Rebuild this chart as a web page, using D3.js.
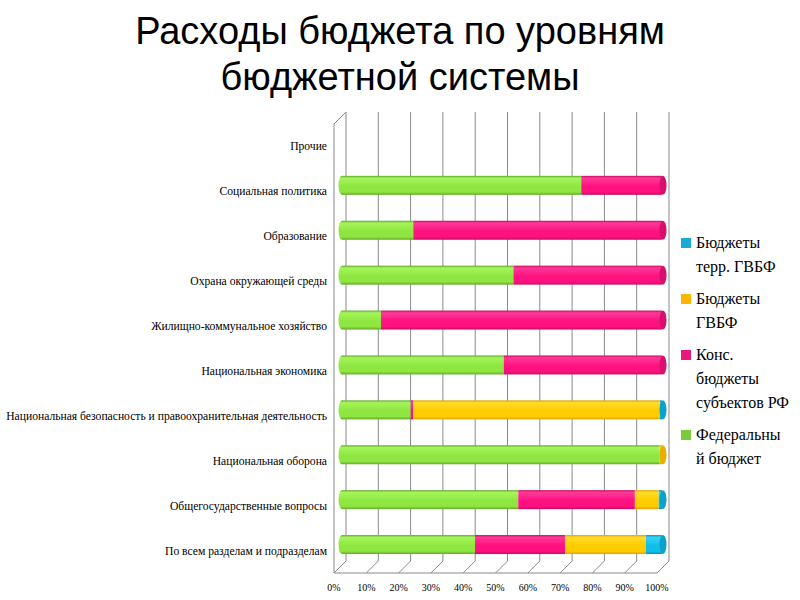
<!DOCTYPE html>
<html><head><meta charset="utf-8">
<script src="https://cdn.jsdelivr.net/npm/d3@7"></script>
<style>body{margin:0;background:#fff}svg{display:block}</style>
</head><body>
<svg id="c" width="800" height="600"></svg>
<script>
const titleLines = ["Расходы бюджета по уровням", "бюджетной системы"];
const categories = ["Прочие","Социальная политика","Образование","Охрана окружающей среды","Жилищно-коммунальное хозяйство","Национальная экономика","Национальная безопасность и правоохранительная деятельность","Национальная оборона","Общегосударственные вопросы","По всем разделам и подразделам"];
const seriesNames = ["Федеральный бюджет","Конс. бюджеты субъектов РФ","Бюджеты ГВБФ","Бюджеты терр. ГВБФ"];
const federal  = [0, 75, 23, 54, 13, 51, 22.2, 99.3, 55.5, 42.1];
const regional = [0, 25, 77, 46, 87, 49, 0.8, 0, 36.1, 27.9];
const gvbf     = [0, 0, 0, 0, 0, 0, 76.4, 0.7, 7.4, 25];
const tgvbf    = [0, 0, 0, 0, 0, 0, 0.6, 0, 1, 5];
const ticks = [0,10,20,30,40,50,60,70,80,90,100];
const legendItems = [["Бюджеты","терр. ГВБФ"],["Бюджеты","ГВБФ"],["Конс.","бюджеты","субъектов РФ"],["Федеральны","й бюджет"]];

const SERIF = "'Liberation Serif', 'Times New Roman', 'DejaVu Serif', serif";
const SANS = "'Liberation Sans', Arial, sans-serif";
const svg = d3.select("#c");
const colors = [
  {base:"#8fe640", light:"#a4f55a", dark:"#62a82a", cap:"#72c232", leg:"#7acc3c"},
  {base:"#ff1280", light:"#ff3a98", dark:"#c80c62", cap:"#d80f6c", leg:"#e8187c"},
  {base:"#ffcc00", light:"#ffdc2a", dark:"#e0a400", cap:"#e8b000", leg:"#ffb400"},
  {base:"#10bfe8", light:"#3ad0f5", dark:"#0890b8", cap:"#0aa2cc", leg:"#1aa8d8"}
];
const defs = svg.append("defs");
colors.forEach((c,i)=>{
  const g = defs.append("linearGradient").attr("id","g"+i).attr("x1",0).attr("y1",0).attr("x2",0).attr("y2",1);
  g.append("stop").attr("offset","0").attr("stop-color",c.dark);
  g.append("stop").attr("offset","0.12").attr("stop-color",c.light);
  g.append("stop").attr("offset","0.55").attr("stop-color",c.base);
  g.append("stop").attr("offset","0.85").attr("stop-color",c.base);
  g.append("stop").attr("offset","1").attr("stop-color",c.dark);
});

// Title
svg.append("g").selectAll("text").data(titleLines).join("text")
  .attr("x",400).attr("y",(d,i)=>44+i*46).attr("text-anchor","middle")
  .style("font-family",SANS).style("font-size","38px").attr("fill","#000").text(d=>d);

// Plot geometry
const fx0 = 334, fx1 = 657, fy0 = 124, fy1 = 573, ddx = 12, ddy = -12;
const x = d3.scaleLinear().domain([0,100]).range([fx0,fx1]);
const y = d3.scaleBand().domain(categories).range([fy0,fy1]);
const grid = svg.append("g").attr("stroke","#8a8a8a").attr("stroke-width",1).attr("fill","none");
grid.selectAll("line.v").data(ticks).join("line").attr("class","v")
  .attr("x1",d=>x(d)+ddx).attr("x2",d=>x(d)+ddx).attr("y1",fy0+ddy).attr("y2",fy1+ddy);
grid.append("line").attr("x1",fx0).attr("x2",fx1).attr("y1",fy1).attr("y2",fy1);
grid.selectAll("line.f").data(ticks).join("line").attr("class","f")
  .attr("x1",d=>x(d)).attr("x2",d=>x(d)+ddx).attr("y1",fy1).attr("y2",fy1+ddy);
grid.append("line").attr("x1",fx0).attr("x2",fx0).attr("y1",fy0).attr("y2",fy1);
grid.append("line").attr("x1",fx0).attr("x2",fx0+ddx).attr("y1",fy0).attr("y2",fy0+ddy);

// Category labels
svg.append("g").selectAll("text").data(categories).join("text")
  .attr("x",fx0-7).attr("y",d=>y(d)+y.bandwidth()/2+4)
  .attr("text-anchor","end").style("font-family",SERIF).style("font-size","11.6px")
  .attr("fill","#000").text(d=>d);

// Tick labels
svg.append("g").selectAll("text").data(ticks).join("text")
  .attr("x",d=>x(d)).attr("y",591).attr("text-anchor","middle")
  .style("font-family",SERIF).style("font-size","10px").attr("fill","#000").text(d=>d+"%");

// Bars (cylinders at mid depth)
const bh = 19, ox = ddx/2 - 1, oy = ddy/2;
const data = categories.map((c,i)=>({c, v:[federal[i],regional[i],gvbf[i],tgvbf[i]]}));
const bars = svg.append("g");
data.forEach(d=>{
  const total = d3.sum(d.v);
  if(total<=0) return;
  const cy = y(d.c)+y.bandwidth()/2+oy;
  const g = bars.append("g");
  let acc = 0; const segs=[];
  d.v.forEach((v,k)=>{ if(v>0){ segs.push({k,a:acc,b:acc+v}); } acc+=v; });
  const first = segs[0];
  g.append("ellipse").attr("cx",x(0)+ox+3).attr("cy",cy).attr("rx",3.5).attr("ry",bh/2).attr("fill","url(#g"+first.k+")");
  segs.forEach(s=>{
    g.append("rect").attr("x",x(s.a)+ox+(s.a===0?3:0)).attr("y",cy-bh/2)
      .attr("width",Math.max(0.8,x(s.b)-x(s.a)-(s.a===0?3:0))).attr("height",bh)
      .attr("fill","url(#g"+s.k+")");
  });
  const last = segs[segs.length-1];
  g.append("ellipse").attr("cx",x(last.b)+ox+1).attr("cy",cy).attr("rx",3.5).attr("ry",bh/2)
    .attr("fill",colors[last.k].cap);
});

// Legend
const leg = svg.append("g");
const legColors = [3,2,1,0];
let ly = 248;
legendItems.forEach((lines,i)=>{
  const c = colors[legColors[i]];
  leg.append("rect").attr("x",681).attr("y",ly-10).attr("width",10).attr("height",10).attr("fill",c.leg);
  lines.forEach((t,j)=>{
    leg.append("text").attr("x",696).attr("y",ly+j*24).style("font-family",SERIF)
      .style("font-size","16px").attr("fill","#000").text(t);
  });
  ly += lines.length*24 + 8;
});
</script>
</body></html>
